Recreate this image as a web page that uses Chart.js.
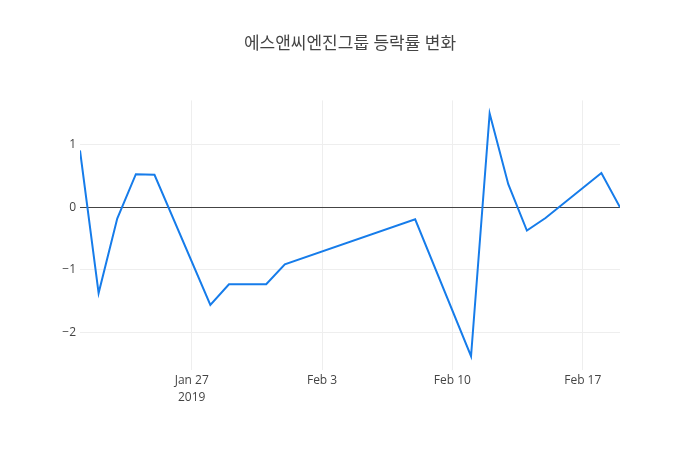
<!DOCTYPE html>
<html>
<head>
<meta charset="utf-8">
<script src="https://cdn.jsdelivr.net/npm/chart.js@4/dist/chart.umd.min.js"></script>
<style>
  html, body { margin: 0; padding: 0; background: #fff; }
  #wrap { width: 700px; height: 450px; position: relative; }
</style>
</head>
<body>
<div id="wrap"><canvas id="c" width="700" height="450"></canvas></div>
<script>
const titleText = '에스앤씨엔진그룹 등락률 변화';
const dates = ['2019-01-21','2019-01-22','2019-01-23','2019-01-24','2019-01-25',
               '2019-01-28','2019-01-29','2019-01-31','2019-02-01','2019-02-08',
               '2019-02-11','2019-02-12','2019-02-13','2019-02-14','2019-02-15',
               '2019-02-18','2019-02-19'];
const changes = [0.91, -1.37, -0.18, 0.53, 0.52,
                 -1.56, -1.23, -1.23, -0.91, -0.19,
                 -2.38, 1.50, 0.37, -0.37, -0.17,
                 0.55, 0.0];
const tickDates = ['2019-01-27','2019-02-03','2019-02-10','2019-02-17'];
const yTicks = [-2, -1, 0, 1];
const monthNames = ['Jan','Feb','Mar','Apr','May','Jun','Jul','Aug','Sep','Oct','Nov','Dec'];

const DAY = 86400000;
function toDay(s) { const p = s.split('-'); return Date.UTC(+p[0], +p[1]-1, +p[2]) / DAY; }
function dayLabel(d, first) {
  const dt = new Date(d * DAY);
  const lab = monthNames[dt.getUTCMonth()] + ' ' + dt.getUTCDate();
  return first ? [lab, String(dt.getUTCFullYear())] : lab;
}

const points = dates.map((d, i) => ({ x: toDay(d), y: changes[i] }));
const xTickVals = tickDates.map(toDay);
const FONT = "'Open Sans', 'Noto Sans CJK KR', sans-serif";

new Chart(document.getElementById('c'), {
  type: 'line',
  data: {
    datasets: [{
      data: points,
      borderColor: 'rgb(22,124,234)',
      borderWidth: 2,
      pointRadius: 0,
      tension: 0,
      fill: false
    }]
  },
  options: {
    responsive: false,
    animation: false,
    layout: { padding: { left: 0, right: 0, top: 0, bottom: 0 } },
    plugins: {
      legend: { display: false },
      tooltip: { enabled: false },
      title: {
        display: true,
        text: titleText,
        color: '#444',
        font: { family: FONT, size: 17, weight: 'normal' },
        padding: { top: 34, bottom: 46 }
      }
    },
    scales: {
      x: {
        type: 'linear',
        min: toDay(dates[0]),
        max: toDay(dates[dates.length - 1]),
        afterBuildTicks: (s) => { s.ticks = xTickVals.map(v => ({ value: v })); },
        afterFit: (s) => { s.height = 80; },
        ticks: {
          color: '#444',
          font: { family: FONT, size: 12, lineHeight: 1.4 },
          padding: 2,
          maxRotation: 0,
          autoSkip: false,
          callback: (v, i) => dayLabel(v, i === 0)
        },
        grid: { color: '#eee', lineWidth: 1, drawTicks: false },
        border: { display: false }
      },
      y: {
        min: -2.6,
        max: 1.71,
        afterBuildTicks: (s) => { s.ticks = yTicks.map(v => ({ value: v })); },
        afterFit: (s) => { s.width = 80; },
        ticks: {
          color: '#444',
          font: { family: FONT, size: 12 },
          padding: 4,
          callback: (v) => String(v).replace('-', '\u2212')
        },
        grid: {
          color: (ctx) => (ctx.tick && ctx.tick.value === 0) ? '#444' : '#eee',
          lineWidth: 1,
          drawTicks: false
        },
        border: { display: false }
      },
      yRight: {
        position: 'right',
        min: -2.6,
        max: 1.71,
        afterFit: (s) => { s.width = 80; },
        ticks: { display: false },
        grid: { display: false, drawTicks: false },
        border: { display: false }
      }
    }
  }
});
</script>
</body>
</html>
